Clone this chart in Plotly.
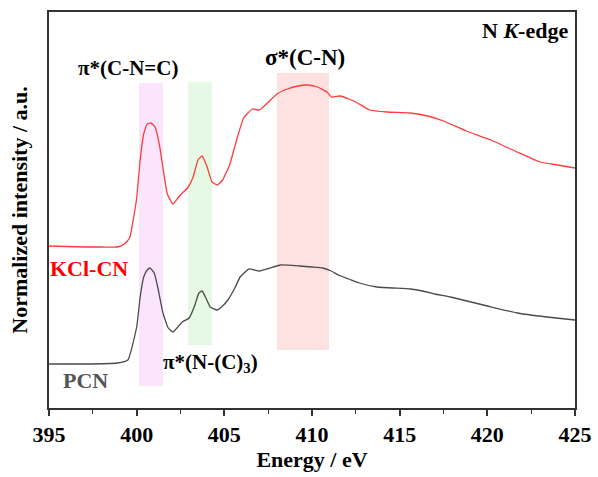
import plotly.graph_objects as go

# Energy (eV) and normalized intensity (arbitrary units, offset stacked)
kcl_energy = [395, 396, 397, 398, 398.9, 399.3, 399.6, 399.85, 400.0, 400.2, 400.4, 400.6, 400.82,
              401.05, 401.3, 401.5, 401.75, 402.07, 402.35, 402.6, 402.9, 403.2, 403.5, 403.73, 404.0,
              404.3, 404.6, 404.9, 405.3, 405.7, 406.1, 406.6, 407.0, 407.4, 408.0, 408.6,
              409.2, 409.7, 410.3, 410.86, 411.1, 411.6, 412.1, 412.6, 413.3, 414.3, 415.6,
              416.6, 417.5, 418.8, 420.2, 421.7, 423.0, 424.0, 425.0]
kcl_ypx = [246, 246.5, 247, 247, 247, 244, 238, 215, 198, 160, 134, 124, 123,
           127, 145, 168, 194, 204, 198, 193, 188, 178, 160, 156, 166,
           182, 185, 180, 165, 140, 118, 109, 110, 104, 94, 89,
           86, 85, 87, 92, 97, 96, 99, 103, 110, 112, 113,
           116, 121, 131, 140, 152, 162, 165, 168]
kcl_intensity = [408 - v for v in kcl_ypx]

pcn_energy = [395, 397, 398.9, 399.5, 400.0, 400.2, 400.4, 400.6, 400.76, 401.0, 401.2, 401.5, 401.8,
              402.07, 402.3, 402.6, 403.0, 403.3, 403.55, 403.73, 403.95, 404.2, 404.6, 404.9,
              405.2, 405.6, 405.9, 406.4, 407.0, 407.6, 408.2, 409.3, 410.0, 410.6, 411.1,
              411.5, 412.1, 412.7, 413.7, 415.6, 416.3, 417.0, 417.9, 420.0, 421.7, 423.4, 425.0]
pcn_ypx = [364, 364, 363, 360, 327, 297, 277, 270, 268, 273, 287, 313, 328,
           332, 328, 322, 318, 306, 293, 291, 298, 307, 310, 306,
           300, 288, 277, 269, 271, 268, 265, 266, 267, 268, 271,
           275, 279, 283, 287, 289, 291, 294, 297, 306, 313, 317, 320]
pcn_intensity = [408 - v for v in pcn_ypx]

# Shaded regions
bands_x0 = [400.13, 402.93, 408.0]
bands_x1 = [401.5, 404.3, 410.97]
bands_y0 = [408 - 386, 408 - 345, 408 - 350]
bands_y1 = [408 - 83, 408 - 82, 408 - 73]
bands_color = ["rgba(245,190,250,0.40)", "rgba(190,240,190,0.40)", "rgba(252,190,190,0.45)"]

FONT = "Liberation Serif"

fig = go.Figure()
for x0, x1, y0, y1, c in zip(bands_x0, bands_x1, bands_y0, bands_y1, bands_color):
    fig.add_shape(type="rect", xref="x", yref="y", x0=x0, x1=x1, y0=y0, y1=y1,
                  fillcolor=c, line=dict(width=0), layer="below")

fig.add_trace(go.Scatter(x=kcl_energy, y=kcl_intensity, mode="lines",
                         line=dict(color="#ff3b3b", width=1.3, shape="spline", smoothing=0.4),
                         showlegend=False))
fig.add_trace(go.Scatter(x=pcn_energy, y=pcn_intensity, mode="lines",
                         line=dict(color="#4a4a4a", width=1.3, shape="spline", smoothing=0.4),
                         showlegend=False))

def ann(x, y, text, color="black", size=22, xanchor="center"):
    fig.add_annotation(x=x, y=y, xref="x", yref="y", text=text, showarrow=False,
                       xanchor=xanchor, yanchor="middle",
                       font=dict(family=FONT, size=size, color=color))

ann(399.48, 340, "<b>π*(C-N=C)</b>", size=21)
ann(409.58, 351, "<b>σ*(C-N)</b>", size=23)
ann(424.7, 378, "<b>N <i>K</i>-edge</b>", size=22, xanchor="right")
ann(397.28, 140, "<b>KCl-CN</b>", color="#ff0000", size=22)
ann(397.08, 28, "<b>PCN</b>", color="#555555", size=22)
ann(404.2, 45, "<b>π*(N-(C)<sub>3</sub>)</b>", size=21)

fig.update_layout(
    width=598, height=477,
    margin=dict(l=49, r=23, t=12, b=69),
    paper_bgcolor="white", plot_bgcolor="white",
    font=dict(family=FONT, color="black"),
    xaxis=dict(range=[395, 425], dtick=5, tick0=395, showgrid=False, zeroline=False,
               automargin=False,
               showline=True, linecolor="#333", linewidth=1.5, mirror=True,
               ticks="outside", ticklen=6, tickwidth=1.5, tickcolor="#333",
               minor=dict(dtick=2.5, ticks="outside", ticklen=4, tickwidth=1.2, tickcolor="#333"),
               tickfont=dict(family=FONT, size=22, color="black"),
               tickprefix="<b>", ticksuffix="</b>",
               title=dict(text="<b>Energy / eV</b>", font=dict(family=FONT, size=22), standoff=2)),
    yaxis=dict(range=[0, 396], showgrid=False, zeroline=False, showticklabels=False,
               automargin=False,
               ticks="", showline=True, linecolor="#333", linewidth=1.5, mirror=True,
               title=dict(text="<b>Normalized intensity / a.u.</b>",
                          font=dict(family=FONT, size=22), standoff=14)),
)

fig.write_html("out.html")
